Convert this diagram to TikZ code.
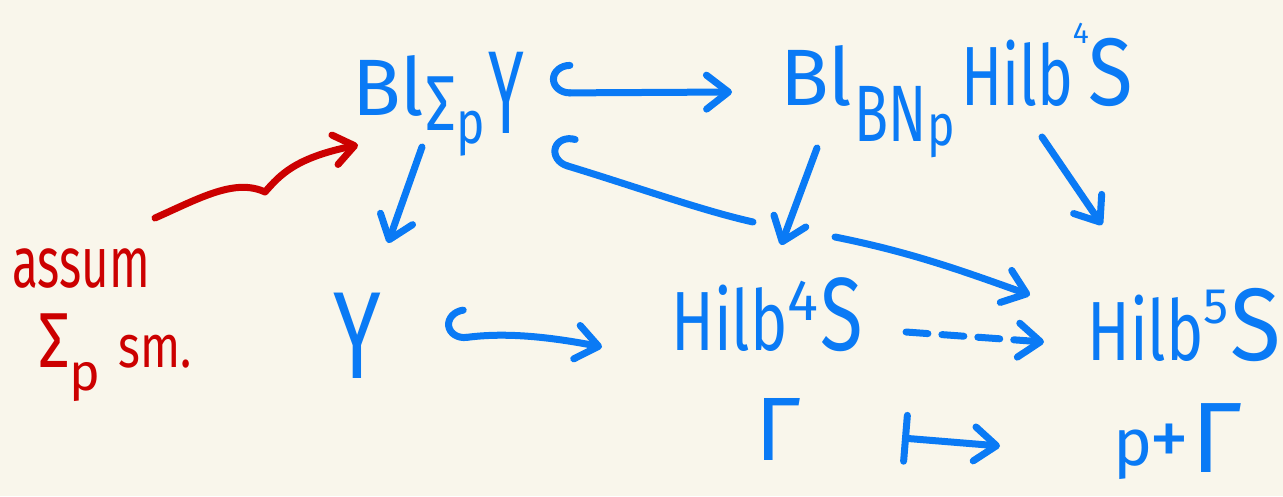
\documentclass[tikz,border=0pt]{standalone}
\usepackage{fontspec}
\setmainfont{Fira Sans}
\usetikzlibrary{arrows.meta,calc}
\definecolor{paper}{RGB}{249,246,235}
\definecolor{ink}{RGB}{10,122,245}
\definecolor{redink}{RGB}{204,0,0}
\newcommand{\fs}[1]{\fontsize{#1}{#1}\selectfont}
\newcommand{\sx}[2]{\scalebox{#1}[1]{#2}}
\tikzset{
  tipv/.tip={Straight Barb[length=22pt,width=34pt,round]},
  hooktip/.tip={Hooks[right,length=20pt,width=62pt,round]},
  lbl/.style={text=ink, inner sep=0pt, anchor=base west},
  note/.style={text=redink, inner sep=0pt, anchor=base west},
  arr/.style={draw=ink, line width=7pt, line cap=round, line join=round, -{tipv}},
  hookarr/.style={arr, {hooktip}-{tipv}},
  hookline/.style={draw=ink, line width=7pt, line cap=round, {hooktip}-},
  dasharr/.style={arr, dash pattern=on 22pt off 14pt},
  mapsarr/.style={arr, {Bar[width=46pt,round]}-{tipv}},
  redarr/.style={draw=redink, line width=7pt, line cap=round, line join=round,
    -{Straight Barb[length=20pt,width=30pt,round]}},
}
\begin{document}
\begin{tikzpicture}[x=1pt,y=-1pt]
  \fill[paper] (0,0) rectangle (1283,496);
  \useasboundingbox (0,0) rectangle (1283,496);

  % objects of the diagram
  \node[lbl] (bly) at (352,115)
    {\fs{80}Bl\kern1pt\raisebox{-15pt}{\sx{0.78}{\fs{78}Σ}}\kern1pt\raisebox{-28pt}{\sx{0.8}{\fs{60}p}}\kern3pt\raisebox{-18pt}{\sx{0.55}{\fs{118}Y}}};
  \node[lbl] (blh) at (780,105)
    {\fs{80}Bl\kern2pt\raisebox{-36pt}{\sx{0.7}{\fs{80}BN}}\kern1pt\raisebox{-40pt}{\sx{0.8}{\fs{58}p}}\kern6pt\sx{0.72}{\fs{84}Hilb}\raisebox{62pt}{\fs{30}4}\kern0pt\sx{0.85}{\fs{96}S}};
  \node[lbl] (y) at (333,378) {\sx{0.7}{\fs{124}Y}};
  \node[lbl] (h4) at (671,350)
    {\sx{0.75}{\fs{84}Hilb}\raisebox{30pt}{\fs{58}4}\kern2pt\sx{0.75}{\fs{104}S}};
  \node[lbl] (h5) at (1087,360)
    {\sx{0.75}{\fs{84}Hilb}\raisebox{37pt}{\fs{50}5}\kern2pt\sx{0.9}{\fs{103}S}};
  \node[lbl] (gam) at (755,460) {\fs{90}Γ};
  \node[lbl] (pg) at (1113,465)
    {\fs{66}p\kern-3pt{\fs{80}+}\kern2pt\raisebox{-7pt}{\fs{100}Γ}};

  % side remark
  \node[note] (assum) at (12,287) {\sx{0.66}{\fs{72}assum}};
  \node[note] (smooth) at (38,367)
    {\sx{0.8}{\fs{78}Σ}\raisebox{-23pt}{\fs{52}p}\kern18pt\sx{0.78}{\fs{60}sm.}};

  % arrows
  \draw[hookarr] ($(bly.base west)+(198,-22)$) -- ($(blh.base west)+(-48,-13)$);
  \draw[arr] ($(bly.base west)+(70,32)$) -- ($(y.base west)+(55,-135)$);
  \coordinate (gapL) at (753,222);
  \coordinate (gapR) at (835,237);
  \draw[hookline] ($(bly.base west)+(196,45)$) .. controls (640,188) and (700,210) .. (gapL);
  \draw[arr] (gapR) .. controls (910,252) and (960,270) .. ($(h5.base west)+(-57,-65)$);
  \draw[arr] ($(blh.base west)+(37,43)$) -- ($(h4.base west)+(110,-105)$);
  \draw[arr] ($(blh.base west)+(262,32)$) -- ($(h5.base west)+(15,-135)$);
  \draw[hookarr] ($(y.base west)+(114,-38)$) .. controls (500,333) and (540,335) .. ($(h4.base west)+(-69,-3)$);
  \draw[dasharr] ($(h4.base west)+(235,-18)$) -- ($(h5.base west)+(-43,-18)$);
  \draw[mapsarr] ($(gam.base west)+(147,-22)$) -- ($(pg.base west)+(-113,-19)$);

  \coordinate (noteA) at ($(assum.base west)+(143,-69)$);
  \coordinate (kink) at (265,192);
  \draw[redarr] (noteA) .. controls (200,198) and (235,178) .. (kink)
    .. controls (280,175) and (295,158) .. ($(bly.base west)+(6,30)$);
\end{tikzpicture}
\end{document}
